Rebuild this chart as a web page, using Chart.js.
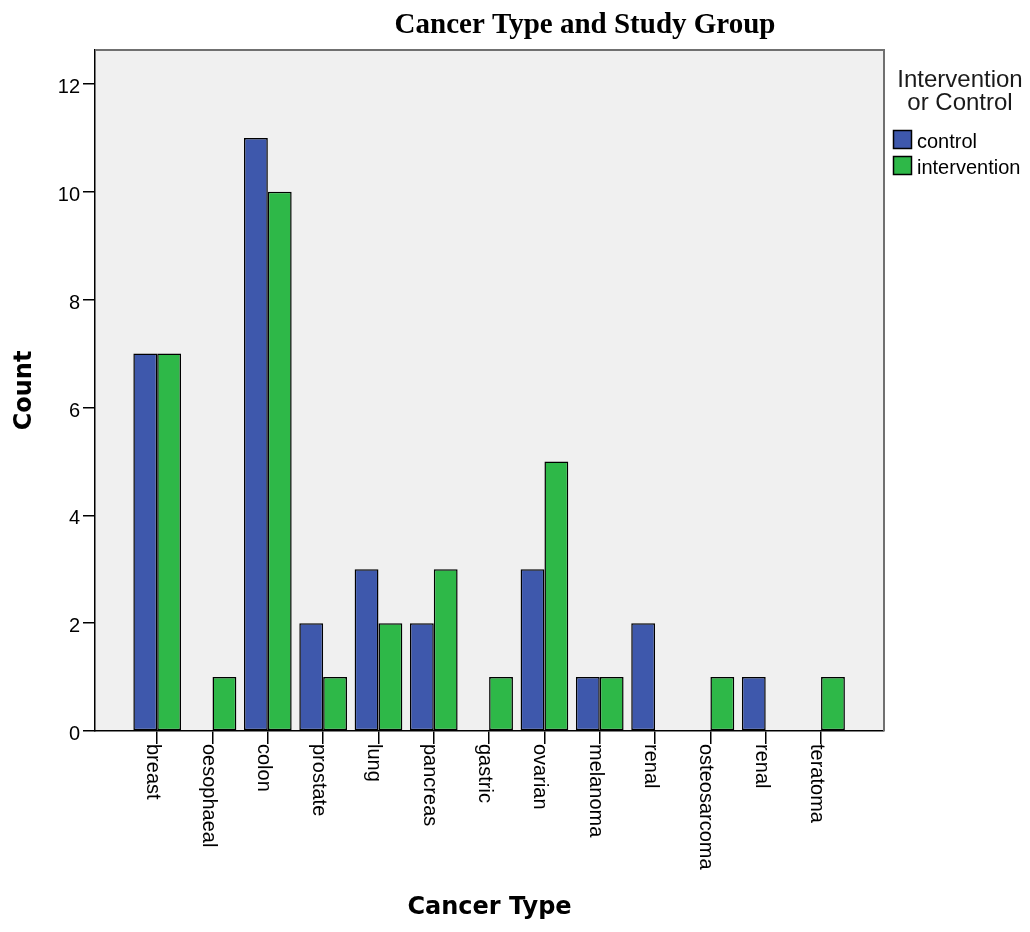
<!DOCTYPE html>
<html>
<head>
<meta charset="utf-8">
<title>Cancer Type and Study Group</title>
<script src="https://cdn.jsdelivr.net/npm/chart.js@4.4.1/dist/chart.umd.min.js"></script>
<style>
    body { margin: 0; background: #fff; }
    #wrap { width: 1030px; height: 932px; }
</style>
</head>
<body>
<div id="wrap"><canvas id="chart" width="1030" height="932"></canvas></div>
<script>
const categories = ['breast', 'oesophaeal', 'colon', 'prostate', 'lung', 'pancreas', 'gastric',
    'ovarian', 'melanoma', 'renal', 'osteosarcoma', 'renal', 'teratoma'];
const controlCounts = [7, 0, 11, 2, 3, 2, 0, 3, 1, 2, 0, 1, 0];
const interventionCounts = [7, 1, 10, 1, 2, 3, 1, 5, 1, 0, 1, 0, 1];
const yTicks = [0, 2, 4, 6, 8, 10, 12];
const seriesNames = ['control', 'intervention'];
const seriesColors = ['#3e58ac', '#2eb848'];

// zero counts get no bar at all
function toPoints(counts) {
    return counts.map((v, i) => ({ x: i, y: v === 0 ? null : v }));
}

const plotFrame = {
    id: 'plotFrame',
    beforeDraw(chart) {
        const { ctx, chartArea: a } = chart;
        ctx.save();
        ctx.fillStyle = '#fff';
        ctx.fillRect(0, 0, chart.width, chart.height);
        ctx.fillStyle = '#f0f0f0';
        ctx.fillRect(a.left, a.top, a.right - a.left, a.bottom - a.top);
        ctx.restore();
    },
    afterDraw(chart) {
        const { ctx, chartArea: a, scales } = chart;
        ctx.save();

        // grey top and right edge of the plot
        ctx.strokeStyle = '#707070';
        ctx.lineWidth = 2;
        ctx.beginPath();
        ctx.moveTo(a.left, a.top);
        ctx.lineTo(a.right, a.top);
        ctx.lineTo(a.right, a.bottom);
        ctx.stroke();

        // category labels, turned clockwise
        ctx.fillStyle = '#000';
        ctx.font = '20px "Liberation Sans", Arial, sans-serif';
        ctx.textAlign = 'left';
        ctx.textBaseline = 'alphabetic';
        categories.forEach((name, i) => {
            const x = scales.x.getPixelForValue(i);
            ctx.save();
            ctx.translate(x, a.bottom + 13);
            ctx.rotate(Math.PI / 2);
            ctx.fillText(name, 0, 10);
            ctx.restore();
        });

        // title
        ctx.font = 'bold 29px "Liberation Serif", "Times New Roman", serif';
        ctx.textAlign = 'center';
        ctx.fillText('Cancer Type and Study Group', 585, 33);

        // legend
        ctx.fillStyle = '#1a1a1a';
        ctx.font = '24px "Liberation Sans", Arial, sans-serif';
        ctx.fillText('Intervention', 960, 87);
        ctx.fillText('or Control', 960, 110);

        ctx.font = '20px "Liberation Sans", Arial, sans-serif';
        ctx.textAlign = 'left';
        ctx.lineWidth = 1.5;
        ctx.strokeStyle = '#000';
        seriesNames.forEach((name, i) => {
            const y = 130 + i * 26;
            ctx.fillStyle = seriesColors[i];
            ctx.fillRect(893, y, 19, 19);
            ctx.strokeRect(893.5, y + 0.5, 18, 18);
            ctx.fillStyle = '#000';
            ctx.fillText(name, 917, y + 18);
        });

        ctx.restore();
    }
};

window.onload = function() {
    const ctx = document.getElementById('chart').getContext('2d');
    new Chart(ctx, {
        type: 'bar',
        data: {
            datasets: [{
                label: seriesNames[0],
                data: toPoints(controlCounts),
                backgroundColor: seriesColors[0],
                borderColor: '#000',
                borderWidth: 1.5,
                borderSkipped: false
            }, {
                label: seriesNames[1],
                data: toPoints(interventionCounts),
                backgroundColor: seriesColors[1],
                borderColor: '#000',
                borderWidth: 1.5,
                borderSkipped: false
            }]
        },
        options: {
            responsive: false,
            animation: false,
            categoryPercentage: 0.862,
            barPercentage: 1,
            layout: { padding: { top: 50, right: 146, left: 0, bottom: 0 } },
            plugins: {
                legend: { display: false },
                title: { display: false },
                tooltip: { enabled: false }
            },
            scales: {
                x: {
                    type: 'linear',
                    offset: false,
                    min: -1.124,
                    max: 13.138,
                    afterBuildTicks: s => { s.ticks = categories.map((c, i) => ({ value: i })); },
                    afterFit: s => { s.height = 201; },
                    ticks: { display: false },
                    grid: { offset: false, drawOnChartArea: false, drawTicks: true, tickLength: 13, color: '#000', lineWidth: 1.5 },
                    border: { display: true, color: '#000', width: 1.5 },
                    title: {
                        display: true,
                        text: 'Cancer Type',
                        color: '#000',
                        font: { family: 'DejaVu Sans', size: 24, weight: 'bold' },
                        padding: { top: 0, bottom: 10 }
                    }
                },
                y: {
                    min: 0,
                    max: 12.63,
                    afterBuildTicks: s => { s.ticks = yTicks.map(v => ({ value: v })); },
                    afterFit: s => { s.width = 95; },
                    ticks: {
                        color: '#000',
                        font: { family: 'Liberation Sans', size: 20 },
                        padding: 3,
                        labelOffset: 3.5
                    },
                    grid: { drawOnChartArea: false, drawTicks: true, tickLength: 12, color: '#000', lineWidth: 1.5 },
                    border: { display: true, color: '#000', width: 1.5 },
                    title: {
                        display: true,
                        text: 'Count',
                        color: '#000',
                        font: { family: 'DejaVu Sans', size: 24, weight: 'bold' },
                        padding: { top: 10, bottom: 0 }
                    }
                }
            }
        },
        plugins: [plotFrame]
    });
};
</script>
</body>
</html>
